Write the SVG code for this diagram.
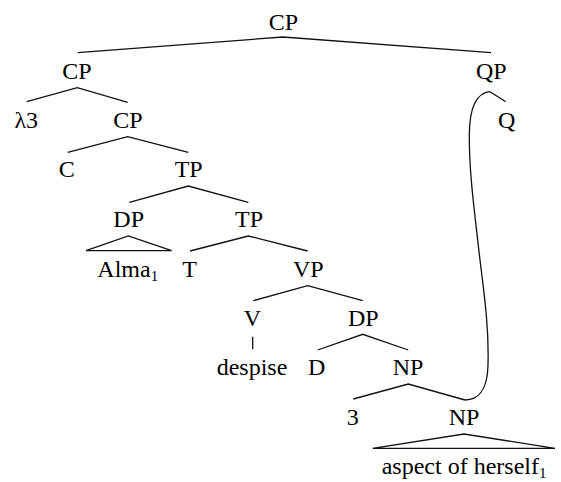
<svg xmlns="http://www.w3.org/2000/svg" width="561" height="482" viewBox="0 0 561 482">
<style>
text{font-family:"Liberation Serif","Times New Roman",serif;font-size:24px;fill:#000;text-anchor:middle}
text.s{text-anchor:start}
tspan.sub{font-size:15px}
.e{fill:none;stroke:#111;stroke-width:1.3;stroke-linejoin:miter}
</style>
<rect width="561" height="482" fill="#fff"/>
<g id="connectors">
<polyline class="e" points="77.7,52.7 283,37 491,52.7"/>
<polyline class="e" points="26.7,101.7 77.3,87.7 127.7,102.3"/>
<polyline class="e" points="67.7,152.3 127.7,136.7 188.3,152.3"/>
<polyline class="e" points="129.3,202.3 188.3,186 248.3,202.3"/>
<polygon class="e" points="86,250.7 128.3,236 171.7,250.7"/>
<polyline class="e" points="190,251 248.3,236 307.7,251"/>
<polyline class="e" points="253.3,300.7 307.7,285.7 362.7,300.7"/>
<line class="e" x1="252.7" y1="336.7" x2="252.7" y2="349.3"/>
<polyline class="e" points="317.7,350 362.7,334.3 408.3,350"/>
<polyline class="e" points="353.3,399 408.3,384 465,400"/>
<polygon class="e" points="372.7,448.3 464,434 555,448.3"/>
<line class="e" x1="490" y1="91.7" x2="505.7" y2="101.7"/>
<path class="e" d="M490,91.7 C476,93 469.5,108 469.3,135 C469.2,170 473,200 480,260 C485,300 489,330 488,365 C487.5,390 478,400 465,400"/>
</g>
<g id="cp-root"><text x="283.5" y="29.5">CP</text></g>
<g id="cp-1"><text x="77" y="79">CP</text></g>
<g id="qp"><text x="491.3" y="79">QP</text></g>
<g id="lambda3"><text x="26.2" y="128.3">λ3</text></g>
<g id="cp-2"><text x="128" y="128.3">CP</text></g>
<g id="q"><text x="506.7" y="128.3">Q</text></g>
<g id="c"><text x="66.7" y="176.7">C</text></g>
<g id="tp-1"><text x="188.7" y="176.7">TP</text></g>
<g id="dp-1"><text x="128.7" y="226.7">DP</text></g>
<g id="tp-2"><text x="249" y="226.7">TP</text></g>
<g id="alma"><text class="s" x="97.3" y="276.7">Alma<tspan class="sub" dy="4">1</tspan></text></g>
<g id="t"><text x="189.7" y="276.7">T</text></g>
<g id="vp"><text x="308.3" y="276.7">VP</text></g>
<g id="v"><text x="252.5" y="325.5">V</text></g>
<g id="dp-2"><text x="363.3" y="325.5">DP</text></g>
<g id="despise"><text x="252" y="375">despise</text></g>
<g id="d"><text x="316.7" y="375">D</text></g>
<g id="np-1"><text x="408" y="375">NP</text></g>
<g id="three"><text x="352.7" y="425">3</text></g>
<g id="np-2"><text x="464" y="425">NP</text></g>
<g id="aspect"><text class="s" x="381.7" y="474">aspect of herself<tspan class="sub" dy="4">1</tspan></text></g>
</svg>
